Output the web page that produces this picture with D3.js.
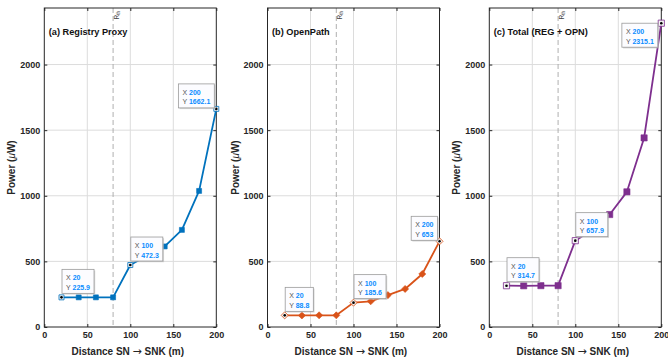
<!DOCTYPE html>
<html><head><meta charset="utf-8">
<script src="https://cdn.jsdelivr.net/npm/d3@7"></script>
<style>body{margin:0;background:#fff}svg{display:block;font-family:"Liberation Sans",Arial,sans-serif}</style>
</head><body><svg id="c" width="668" height="361"></svg>
<script>
const distances = [20, 40, 60, 80, 100, 120, 140, 160, 180, 200];
const regPower = [225.9, 226, 226, 226, 472.3, 545, 614, 740, 1037, 1662.1];
const opnPower = [88.8, 88, 89, 89, 185.6, 196, 243, 290, 404, 653];
const totPower = [314.7, 314, 315, 315, 657.9, 741, 857, 1030, 1441, 2315.1];
const xTicks = [0, 50, 100, 150, 200];
const yTicks = [0, 500, 1000, 1500, 2000];
const titles = ["(a) Registry Proxy", "(b) OpenPath", "(c) Total (REG + OPN)"];
const tipX = [20, 100, 200];
const threshold = 80;
const yMax = 2431;

const series = [regPower, opnPower, totPower];
const colors = ["#0072BD", "#D95319", "#7E2F8E"];
const markers = ["square", "diamond", "square"];
const markerSize = [5, 8, 6.2];
const tipPlace = [["ur","ur","ul"],["ur","ur","ul"],["ur","ur","dl"]];
const lefts = [44.3, 267.5, 489.3];
const W = 172, pTop = 8, pBot = 327;
const ink = "#262626";

const svg = d3.select("#c");
lefts.forEach((L, p) => {
  const x = d3.scaleLinear().domain([0, 200]).range([L, L + W]);
  const y = d3.scaleLinear().domain([0, yMax]).range([pBot, pTop]);
  const g = svg.append("g");
  // grid
  g.selectAll(".gx").data(xTicks.slice(1, -1)).enter().append("line")
    .attr("x1", d => x(d)).attr("x2", d => x(d)).attr("y1", pTop).attr("y2", pBot)
    .attr("stroke", "#dcdcdc").attr("stroke-width", 1);
  g.selectAll(".gy").data(yTicks.slice(1)).enter().append("line")
    .attr("x1", L).attr("x2", L + W).attr("y1", d => y(d)).attr("y2", d => y(d))
    .attr("stroke", "#dcdcdc").attr("stroke-width", 1);
  // threshold
  g.append("line").attr("x1", x(threshold)).attr("x2", x(threshold)).attr("y1", pTop).attr("y2", pBot)
    .attr("stroke", "#a6a6a6").attr("stroke-width", 0.9).attr("stroke-dasharray", "5,3");
  const rt = g.append("text").attr("transform", `translate(${x(threshold) + 5.5},${pTop + 3}) rotate(-90)`)
    .attr("text-anchor", "end").attr("font-size", 6.5).attr("fill", "#444");
  rt.append("tspan").text("R");
  rt.append("tspan").attr("font-size", 4.5).attr("dy", 1.5).text("th");
  // axes
  const ax = d3.axisBottom(x).tickValues(xTicks).tickSize(-3).tickPadding(5).tickFormat(d3.format("d"));
  const ay = d3.axisLeft(y).tickValues(yTicks).tickSize(-3).tickPadding(4).tickFormat(d3.format("d"));
  const axT = d3.axisTop(x).tickValues(xTicks).tickSize(-3).tickFormat("");
  const ayR = d3.axisRight(y).tickValues(yTicks).tickSize(-3).tickFormat("");
  const gx = g.append("g").attr("transform", `translate(0,${pBot})`).call(ax);
  const gy = g.append("g").attr("transform", `translate(${L},0)`).call(ay);
  const gt = g.append("g").attr("transform", `translate(0,${pTop})`).call(axT);
  const gr = g.append("g").attr("transform", `translate(${L + W},0)`).call(ayR);
  [gx, gy, gt, gr].forEach(a => {
    a.select(".domain").remove();
    a.selectAll("line").attr("stroke", ink);
    a.selectAll("text").attr("fill", ink).attr("font-size", 9).attr("font-weight", "bold")
      .attr("font-family", '"Liberation Sans",Arial,sans-serif');
  });
  g.append("rect").attr("x", L).attr("y", pTop).attr("width", W).attr("height", pBot - pTop)
    .attr("fill", "none").attr("stroke", ink).attr("stroke-width", 1);
  // labels
  g.append("text").attr("x", L + 4.5).attr("y", 35).attr("font-size", 9.2).attr("font-weight", "bold")
    .attr("fill", "#111").text(titles[p]);
  g.append("text").attr("x", x(97)).attr("y", 354.5).attr("text-anchor", "middle")
    .attr("font-size", 10).attr("font-weight", "bold").attr("fill", ink)
    .html('Distance SN <tspan font-weight="normal" font-family="DejaVu Sans" font-size="11">\u2192</tspan> SNK (m)');
  const yl = g.append("text").attr("transform", `translate(${L - 29},${(pTop + pBot) / 2}) rotate(-90)`)
    .attr("text-anchor", "middle").attr("font-size", 10).attr("font-weight", "bold").attr("fill", ink);
  yl.append("tspan").text("Power (");
  yl.append("tspan").attr("font-style", "italic").attr("font-weight", "normal").text("\u03bc");
  yl.append("tspan").text("W)");
  // series
  const vals = series[p];
  const pts = distances.map((d, i) => [d, vals[i]]);
  g.append("path").datum(pts).attr("fill", "none").attr("stroke", colors[p]).attr("stroke-width", 1.8)
    .attr("stroke-linejoin", "round")
    .attr("d", d3.line().x(d => x(d[0])).y(d => y(d[1])));
  const sym = markers[p] === "square" ? d3.symbolSquare : d3.symbolDiamond2;
  const s = markerSize[p];
  const sz = markers[p] === "square" ? s * s : s * s * 0.5;
  g.selectAll(".m").data(pts.filter(d => !tipX.includes(d[0]))).enter().append("path")
    .attr("transform", d => `translate(${x(d[0])},${y(d[1])})`)
    .attr("d", d3.symbol().type(sym).size(sz)).attr("fill", colors[p]).attr("stroke", colors[p]).attr("stroke-width", 0.6);
  // datatip markers
  const tipPts = pts.filter(d => tipX.includes(d[0]));
  tipPts.forEach(d => {
    const cx = x(d[0]), cy = y(d[1]);
    g.append("path").attr("transform", `translate(${cx},${cy})`)
      .attr("d", d3.symbol().type(sym).size(sz)).attr("fill", "#f4f4f4").attr("stroke", colors[p]).attr("stroke-width", 0.9).attr("opacity", 0.9);
    g.append("circle").attr("cx", cx).attr("cy", cy).attr("r", 1.3).attr("fill", "#000");
  });
  // datatips
  tipPts.forEach((d, k) => {
    const cx = x(d[0]), cy = y(d[1]);
    const tg = g.append("g");
    const t1 = tg.append("text").attr("font-size", 7);
    t1.append("tspan").attr("fill", "#555").text("X ");
    t1.append("tspan").attr("fill", "#0a8cff").attr("font-weight", "bold").text(d3.format("")(d[0]));
    const t2 = tg.append("text").attr("font-size", 7);
    t2.append("tspan").attr("fill", "#555").text("Y ");
    t2.append("tspan").attr("fill", "#0a8cff").attr("font-weight", "bold").text(String(d[1]));
    const tw = Math.max(t1.node().getComputedTextLength(), t2.node().getComputedTextLength());
    const bw = tw + 8, bh = 24;
    const pl = tipPlace[p][k];
    let bx, by;
    if (pl === "ur") { bx = cx + 0.5; by = cy - 4 - bh; }
    else if (pl === "ul") { bx = cx - 2 - bw; by = cy - 1 - bh; }
    else { bx = cx - 3.5 - bw; by = cy; }
    tg.insert("rect", "text").attr("x", bx + 1.2).attr("y", by + 1.2).attr("width", bw).attr("height", bh)
      .attr("fill", "#bdbdbd").attr("opacity", 0.6);
    tg.insert("rect", "text").attr("x", bx).attr("y", by).attr("width", bw).attr("height", bh)
      .attr("fill", "#fcfcff").attr("stroke", "#9a9a9a").attr("stroke-width", 0.8);
    t1.attr("x", bx + 4).attr("y", by + 11);
    t2.attr("x", bx + 4).attr("y", by + 20.5);
  });
});
</script></body></html>
